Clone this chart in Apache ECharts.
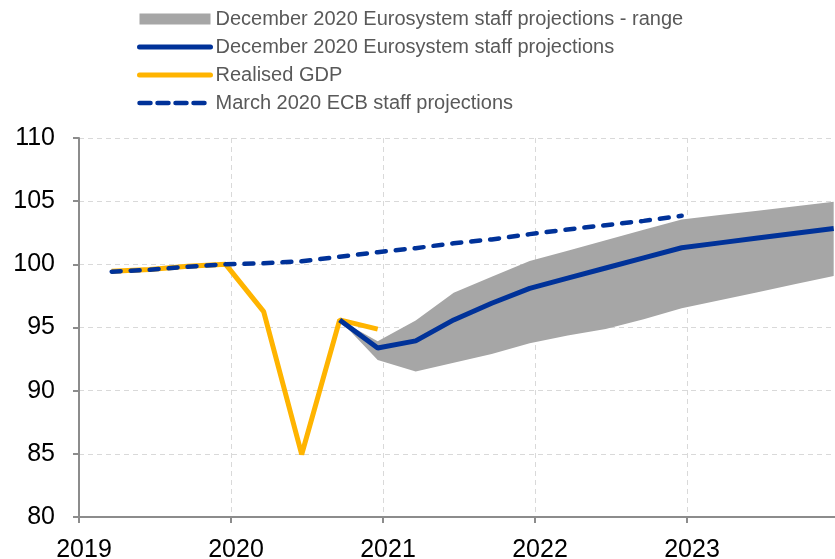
<!DOCTYPE html>
<html>
<head>
<meta charset="utf-8">
<script src="https://cdn.jsdelivr.net/npm/echarts@6/dist/echarts.min.js"></script>
<style>
  html, body { margin: 0; padding: 0; background: #fff; }
  #chart { width: 835px; height: 559px; }
</style>
</head>
<body>
<div id="chart"></div>
<script>
// quarterly data, index 100 = 2019Q4
const realisedQuarters = ['2019Q1', '2019Q2', '2019Q3', '2019Q4', '2020Q1', '2020Q2', '2020Q3', '2020Q4']
const realisedGdp = [99.45, 99.6, 99.85, 100.0, 96.26, 84.95, 95.6, 94.87]

const marchQuarters = ['2019Q1', '2019Q2', '2019Q3', '2019Q4', '2020Q1', '2020Q2', '2020Q3', '2020Q4',
  '2021Q1', '2021Q2', '2021Q3', '2021Q4', '2022Q1', '2022Q2', '2022Q3', '2022Q4']
const march2020 = [99.42, 99.57, 99.81, 100.0, 100.08, 100.24, 100.6, 100.96,
  101.28, 101.67, 101.97, 102.39, 102.76, 103.1, 103.44, 103.84]

const decQuarters = ['2020Q3', '2020Q4', '2021Q1', '2021Q2', '2021Q3', '2021Q4', '2022Q1',
  '2022Q2', '2022Q3', '2022Q4', '2023Q1', '2023Q2', '2023Q3', '2023Q4']
const dec2020 = [95.6, 93.38, 93.94, 95.6, 96.92, 98.1, 98.91, 99.71, 100.51, 101.31, 101.7, 102.08, 102.46, 102.84]
const rangeLow = [95.6, 92.43, 91.52, 92.2, 92.91, 93.76, 94.36, 94.89, 95.65, 96.52, 97.16, 97.8, 98.44, 99.08]
const rangeHigh = [95.6, 93.92, 95.55, 97.76, 99.02, 100.26, 101.08, 101.91, 102.74, 103.55, 103.9, 104.25, 104.6, 104.95]

const names = {
  range: 'December 2020 Eurosystem staff projections - range',
  dec: 'December 2020 Eurosystem staff projections',
  real: 'Realised GDP',
  march: 'March 2020 ECB staff projections'
}

// position of a quarter on the year axis
const qx = (label) => {
  const y = +label.slice(0, 4)
  const q = +label.slice(5)
  return y + (q - 1) / 4 + 0.215
}
const pairs = (labels, vals) => labels.map((l, i) => [qx(l), vals[i]])

// band rows: x, low, high
const bandData = decQuarters.map((l, i) => [qx(l), rangeLow[i], rangeHigh[i]])

const chart = echarts.init(document.getElementById('chart'))

chart.setOption({
  animation: false,
  textStyle: { fontFamily: 'Liberation Sans, Arial, sans-serif' },
  grid: { left: 79, right: -4, top: 138, bottom: 42, containLabel: false, outerBoundsMode: 'none' },
  legend: {
    orient: 'vertical',
    left: 137,
    top: 9,
    padding: 0,
    itemWidth: 71,
    itemHeight: 11,
    itemGap: 8,
    textStyle: { color: '#595959', fontSize: 20 },
    data: [
      { name: names.range, icon: 'rect', itemStyle: { color: '#A6A6A6' } },
      { name: names.dec, itemStyle: { opacity: 0 }, lineStyle: { width: 5, cap: 'round' } },
      { name: names.real, itemStyle: { opacity: 0 }, lineStyle: { width: 5, cap: 'round' } },
      { name: names.march, itemStyle: { opacity: 0 }, lineStyle: { width: 4.5, type: [11, 7], cap: 'round' } }
    ]
  },
  xAxis: {
    type: 'value',
    min: 2019,
    max: 2024,
    interval: 1,
    axisLine: { show: true, onZero: false, lineStyle: { color: '#8C8C8C', width: 2 } },
    axisTick: { show: true, length: 6, lineStyle: { color: '#8C8C8C', width: 2 } },
    axisLabel: {
      color: '#000', fontSize: 25, margin: 21,
      padding: [0, 0, 0, 10],
      showMaxLabel: false,
      formatter: (v) => String(v)
    },
    splitLine: { show: true, lineStyle: { color: '#D9D9D9', type: [5, 4], width: 1 } }
  },
  yAxis: {
    type: 'value',
    min: 80,
    max: 110,
    interval: 5,
    axisLine: { show: true, lineStyle: { color: '#8C8C8C', width: 2 } },
    axisTick: { show: true, length: 6, lineStyle: { color: '#8C8C8C', width: 2 } },
    axisLabel: { color: '#000', fontSize: 25, margin: 24 },
    splitLine: { show: true, lineStyle: { color: '#D9D9D9', type: [5, 4], width: 1 } }
  },
  series: [
    {
      name: names.range,
      type: 'custom',
      data: bandData,
      itemStyle: { color: '#A6A6A6' },
      encode: { x: 0, y: [1, 2] },
      z: 1,
      renderItem: (params, api) => {
        if (params.dataIndex !== 0) return
        const upper = bandData.map((d) => api.coord([d[0], d[2]]))
        const lower = bandData.map((d) => api.coord([d[0], d[1]])).reverse()
        return {
          type: 'polygon',
          shape: { points: upper.concat(lower) },
          style: { fill: '#A6A6A6' }
        }
      }
    },
    {
      name: names.real,
      type: 'line',
      data: pairs(realisedQuarters, realisedGdp),
      symbol: 'none',
      itemStyle: { color: '#FFB400' },
      lineStyle: { color: '#FFB400', width: 5 },
      z: 2
    },
    {
      name: names.dec,
      type: 'line',
      data: pairs(decQuarters, dec2020),
      symbol: 'none',
      itemStyle: { color: '#003299' },
      lineStyle: { color: '#003299', width: 5 },
      z: 3
    },
    {
      name: names.march,
      type: 'line',
      data: pairs(marchQuarters, march2020),
      symbol: 'none',
      itemStyle: { color: '#003299' },
      lineStyle: { color: '#003299', width: 4.5, type: [9, 10], cap: 'round' },
      z: 4
    }
  ]
})

window.addEventListener('resize', () => chart.resize())
</script>
</body>
</html>
